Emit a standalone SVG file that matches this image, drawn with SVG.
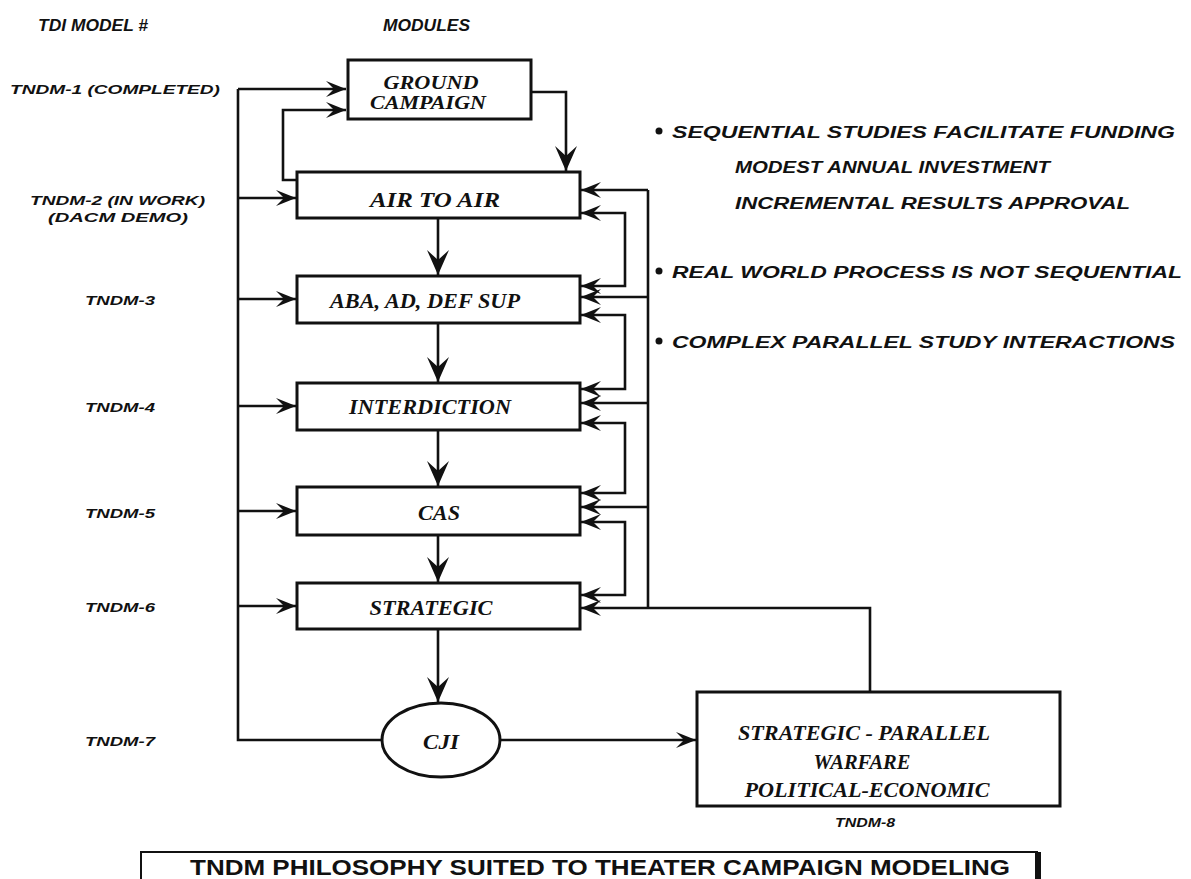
<svg xmlns="http://www.w3.org/2000/svg" width="1191" height="879" viewBox="0 0 1191 879">
<style>
.lbl{font-family:"Liberation Sans",Arial,sans-serif;font-weight:bold;font-style:italic;fill:#111}
.nd{font-family:"Liberation Serif","Times New Roman",serif;font-weight:bold;font-style:italic;fill:#111;text-anchor:middle}
.box{fill:#fff;stroke:#111;stroke-width:3}
.ln{fill:none;stroke:#111;stroke-width:2.6}
.a{marker-end:url(#ah)}
.aL{marker-end:url(#ahL)}
.b{marker-start:url(#ah);marker-end:url(#ah)}
</style>
<defs>
<marker id="ah" viewBox="-20 -9 21 18" markerWidth="21" markerHeight="18" refX="0" refY="0" orient="auto-start-reverse" markerUnits="userSpaceOnUse">
<path d="M0,0 L-20,-8 L-12,0 L-20,8 Z" fill="#111"/>
</marker>
<marker id="ahL" viewBox="-26 -12 27 24" markerWidth="27" markerHeight="24" refX="0" refY="0" orient="auto" markerUnits="userSpaceOnUse">
<path d="M0,0 L-25,-11 L-15,0 L-25,11 Z" fill="#111"/>
</marker>
</defs>
<rect width="1191" height="879" fill="#fff"/>

<g id="headers">
<text class="lbl" x="38" y="31" font-size="17" textLength="110" lengthAdjust="spacingAndGlyphs">TDI MODEL #</text>
<text class="lbl" x="383" y="31" font-size="17" textLength="87" lengthAdjust="spacingAndGlyphs">MODULES</text>
</g>

<g id="model-labels">
<text class="lbl" x="10" y="94" font-size="13.5" textLength="210" lengthAdjust="spacingAndGlyphs">TNDM-1 (COMPLETED)</text>
<text class="lbl" x="30" y="205" font-size="13.5" textLength="175" lengthAdjust="spacingAndGlyphs">TNDM-2 (IN WORK)</text>
<text class="lbl" x="48" y="222" font-size="13.5" textLength="140" lengthAdjust="spacingAndGlyphs">(DACM DEMO)</text>
<text class="lbl" x="85" y="305" font-size="13.5" textLength="70" lengthAdjust="spacingAndGlyphs">TNDM-3</text>
<text class="lbl" x="85" y="412" font-size="13.5" textLength="70" lengthAdjust="spacingAndGlyphs">TNDM-4</text>
<text class="lbl" x="85" y="518" font-size="13.5" textLength="70" lengthAdjust="spacingAndGlyphs">TNDM-5</text>
<text class="lbl" x="85" y="612" font-size="13.5" textLength="70" lengthAdjust="spacingAndGlyphs">TNDM-6</text>
<text class="lbl" x="85" y="746" font-size="13.5" textLength="70" lengthAdjust="spacingAndGlyphs">TNDM-7</text>
<text class="lbl" x="835" y="827" font-size="12" textLength="60" lengthAdjust="spacingAndGlyphs">TNDM-8</text>
</g>

<g id="connectors">
<path class="ln" d="M238,89 V740 H381"/>
<path class="ln a" d="M238,89 H346"/>
<path class="ln a" d="M238,198 H296"/>
<path class="ln a" d="M238,299 H296"/>
<path class="ln a" d="M238,406 H296"/>
<path class="ln a" d="M238,511 H296"/>
<path class="ln a" d="M238,606 H296"/>
<path class="ln a" d="M297,180 H283 V110 H346"/>
<path class="ln aL" d="M531,92 H566 V171"/>
<path class="ln aL" d="M438,218 V275"/>
<path class="ln aL" d="M438,323 V382"/>
<path class="ln aL" d="M438,430 V486"/>
<path class="ln aL" d="M438,535 V582"/>
<path class="ln aL" d="M438,629 V702"/>
<path class="ln" d="M648,190 V608"/>
<path class="ln a" d="M648,190 H581"/>
<path class="ln a" d="M648,297 H581"/>
<path class="ln a" d="M648,403 H581"/>
<path class="ln a" d="M648,507 H581"/>
<path class="ln a" d="M870,692 V608 H581"/>
<path class="ln b" d="M581,213 H625 V286 H581"/>
<path class="ln b" d="M581,315 H625 V389 H581"/>
<path class="ln b" d="M581,423 H625 V493 H581"/>
<path class="ln b" d="M581,522 H625 V595 H581"/>
<path class="ln a" d="M500,740 H696"/>
</g>

<g id="ground-campaign">
<rect class="box" x="348" y="60" width="183" height="59"/>
<text class="nd" x="431" y="89" font-size="19" textLength="95" lengthAdjust="spacingAndGlyphs">GROUND</text>
<text class="nd" x="428" y="109" font-size="19" textLength="116" lengthAdjust="spacingAndGlyphs">CAMPAIGN</text>
</g>
<g id="air-to-air">
<rect class="box" x="297" y="172" width="283" height="46"/>
<text class="nd" x="435" y="207" font-size="20" textLength="130" lengthAdjust="spacingAndGlyphs">AIR TO AIR</text>
</g>
<g id="aba">
<rect class="box" x="297" y="276" width="283" height="47"/>
<text class="nd" x="425" y="308" font-size="20" textLength="190" lengthAdjust="spacingAndGlyphs">ABA, AD, DEF SUP</text>
</g>
<g id="interdiction">
<rect class="box" x="297" y="383" width="283" height="47"/>
<text class="nd" x="430" y="414" font-size="20" textLength="162" lengthAdjust="spacingAndGlyphs">INTERDICTION</text>
</g>
<g id="cas">
<rect class="box" x="297" y="487" width="283" height="48"/>
<text class="nd" x="439" y="520" font-size="20" textLength="42" lengthAdjust="spacingAndGlyphs">CAS</text>
</g>
<g id="strategic">
<rect class="box" x="297" y="583" width="283" height="46"/>
<text class="nd" x="431" y="615" font-size="20" textLength="123" lengthAdjust="spacingAndGlyphs">STRATEGIC</text>
</g>
<g id="cji">
<ellipse cx="441" cy="740" rx="59" ry="37" fill="#fff" stroke="#111" stroke-width="3"/>
<text class="nd" x="441" y="749" font-size="21" textLength="36" lengthAdjust="spacingAndGlyphs">CJI</text>
</g>
<g id="parallel-warfare">
<rect class="box" x="697" y="692" width="363" height="114"/>
<text class="nd" x="864" y="740" font-size="20" textLength="252" lengthAdjust="spacingAndGlyphs">STRATEGIC - PARALLEL</text>
<text class="nd" x="862" y="769" font-size="20" textLength="97" lengthAdjust="spacingAndGlyphs">WARFARE</text>
<text class="nd" x="867" y="797" font-size="20" textLength="245" lengthAdjust="spacingAndGlyphs">POLITICAL-ECONOMIC</text>
</g>

<g id="notes">
<circle cx="659" cy="131" r="3.5" fill="#111"/>
<text class="lbl" x="672" y="138" font-size="16" textLength="503" lengthAdjust="spacingAndGlyphs">SEQUENTIAL STUDIES FACILITATE FUNDING</text>
<text class="lbl" x="735" y="173" font-size="16" textLength="315" lengthAdjust="spacingAndGlyphs">MODEST ANNUAL INVESTMENT</text>
<text class="lbl" x="735" y="209" font-size="16" textLength="395" lengthAdjust="spacingAndGlyphs">INCREMENTAL RESULTS APPROVAL</text>
<circle cx="659" cy="271" r="3.5" fill="#111"/>
<text class="lbl" x="672" y="278" font-size="16" textLength="510" lengthAdjust="spacingAndGlyphs">REAL WORLD PROCESS IS NOT SEQUENTIAL</text>
<circle cx="659" cy="341" r="3.5" fill="#111"/>
<text class="lbl" x="672" y="348" font-size="16" textLength="503" lengthAdjust="spacingAndGlyphs">COMPLEX PARALLEL STUDY INTERACTIONS</text>
</g>

<g id="banner">
<rect x="141" y="852" width="896" height="50" fill="#fff" stroke="#111" stroke-width="2"/>
<rect x="1035" y="852" width="6" height="30" fill="#111"/>
<text x="600" y="875" font-family="Liberation Sans Narrow,Liberation Sans,Arial,sans-serif" font-weight="bold" font-size="22" text-anchor="middle" textLength="820" lengthAdjust="spacingAndGlyphs" fill="#111">TNDM PHILOSOPHY SUITED TO THEATER CAMPAIGN MODELING</text>
</g>
</svg>
